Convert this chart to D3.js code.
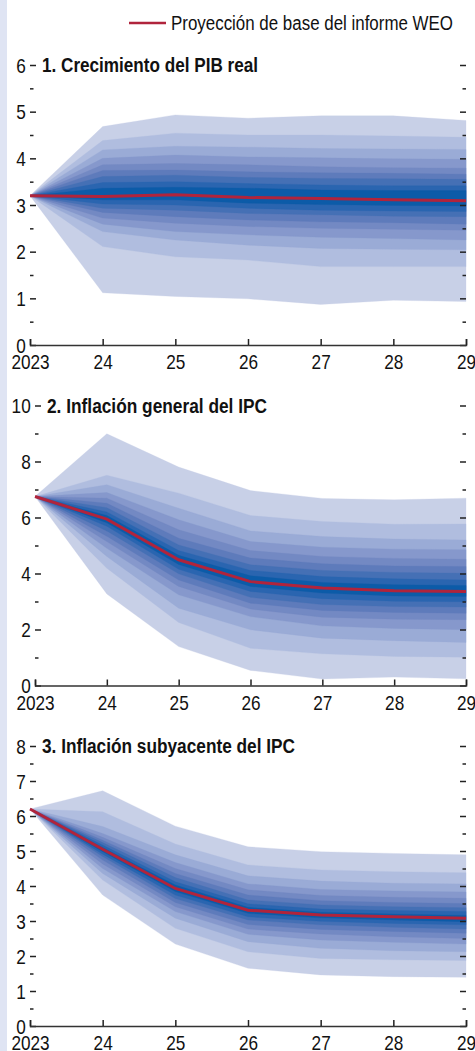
<!DOCTYPE html>
<html>
<head>
<meta charset="utf-8">
<script src="https://cdn.jsdelivr.net/npm/d3@7"></script>
<style>
  body { margin: 0; background: #fff; }
  svg text { font-family: 'Liberation Sans', Arial, sans-serif; fill: #111; }
  .tick line { stroke: #222; stroke-width: 1.5; }
  .domain { stroke: #333; stroke-width: 1.5; fill: none; }
</style>
</head>
<body>
<div id="vis"></div>
<script>
// Years and tick labels
var years = [2023, 2024, 2025, 2026, 2027, 2028, 2029];
var yearLabels = ["2023", "24", "25", "26", "27", "28", "29"];

// 1. Real GDP growth: baseline and fan bounds (band 0 = widest)
var gdpBase = [3.2, 3.18, 3.22, 3.16, 3.14, 3.11, 3.09];
var gdpUpper = [
    [3.2, 4.68, 4.93, 4.86, 4.91, 4.91, 4.81],
    [3.2, 4.38, 4.54, 4.50, 4.50, 4.48, 4.45],
    [3.2, 4.18, 4.26, 4.24, 4.21, 4.20, 4.19],
    [3.2, 4.00, 4.07, 4.03, 4.01, 3.99, 3.98],
    [3.2, 3.86, 3.89, 3.86, 3.82, 3.80, 3.79],
    [3.2, 3.74, 3.75, 3.71, 3.69, 3.68, 3.66],
    [3.2, 3.61, 3.64, 3.59, 3.57, 3.56, 3.55],
    [3.2, 3.48, 3.50, 3.46, 3.43, 3.41, 3.41],
    [3.2, 3.36, 3.38, 3.36, 3.32, 3.31, 3.31]
];
var gdpLower = [
    [3.2, 1.12, 1.04, 0.99, 0.87, 0.96, 0.93],
    [3.2, 2.11, 1.89, 1.82, 1.68, 1.68, 1.68],
    [3.2, 2.43, 2.25, 2.14, 2.07, 2.05, 2.04],
    [3.2, 2.59, 2.43, 2.36, 2.31, 2.28, 2.25],
    [3.2, 2.72, 2.61, 2.54, 2.50, 2.48, 2.46],
    [3.2, 2.84, 2.75, 2.68, 2.64, 2.62, 2.59],
    [3.2, 2.93, 2.89, 2.82, 2.79, 2.76, 2.75],
    [3.2, 3.02, 3.00, 2.93, 2.89, 2.87, 2.86],
    [3.2, 3.11, 3.11, 3.04, 3.01, 2.99, 2.98]
];

// 2. Headline CPI inflation
var cpiBase = [6.75, 5.94, 4.49, 3.71, 3.48, 3.38, 3.36];
var cpiUpper = [
    [6.75, 8.99, 7.80, 6.96, 6.68, 6.63, 6.69],
    [6.75, 7.51, 6.87, 6.07, 5.86, 5.76, 5.77],
    [6.75, 7.17, 6.33, 5.52, 5.32, 5.23, 5.20],
    [6.75, 6.89, 5.92, 5.14, 4.94, 4.87, 4.85],
    [6.75, 6.69, 5.56, 4.82, 4.61, 4.54, 4.51],
    [6.75, 6.51, 5.26, 4.55, 4.35, 4.27, 4.25],
    [6.75, 6.35, 5.02, 4.31, 4.11, 4.04, 4.01],
    [6.75, 6.20, 4.82, 4.11, 3.89, 3.81, 3.77],
    [6.75, 6.07, 4.65, 3.92, 3.68, 3.60, 3.57]
];
var cpiLower = [
    [6.75, 3.27, 1.39, 0.54, 0.23, 0.30, 0.24],
    [6.75, 4.19, 2.25, 1.33, 1.13, 1.04, 1.01],
    [6.75, 4.61, 2.76, 1.99, 1.69, 1.60, 1.54],
    [6.75, 4.90, 3.24, 2.46, 2.13, 2.04, 1.99],
    [6.75, 5.14, 3.54, 2.73, 2.44, 2.37, 2.35],
    [6.75, 5.33, 3.77, 2.94, 2.68, 2.61, 2.58],
    [6.75, 5.52, 3.99, 3.15, 2.89, 2.82, 2.80],
    [6.75, 5.69, 4.15, 3.36, 3.10, 3.01, 2.99],
    [6.75, 5.81, 4.32, 3.54, 3.30, 3.20, 3.18]
];

// 3. Core CPI inflation
var coreBase = [6.2, 5.05, 3.93, 3.31, 3.17, 3.12, 3.08];
var coreUpper = [
    [6.2, 6.72, 5.71, 5.12, 4.98, 4.93, 4.89],
    [6.2, 6.12, 5.20, 4.60, 4.46, 4.41, 4.38],
    [6.2, 5.70, 4.89, 4.29, 4.14, 4.08, 4.06],
    [6.2, 5.50, 4.67, 4.06, 3.90, 3.86, 3.83],
    [6.2, 5.39, 4.50, 3.89, 3.73, 3.68, 3.65],
    [6.2, 5.31, 4.36, 3.74, 3.58, 3.53, 3.50],
    [6.2, 5.24, 4.24, 3.60, 3.46, 3.41, 3.38],
    [6.2, 5.17, 4.12, 3.49, 3.34, 3.30, 3.27],
    [6.2, 5.10, 4.03, 3.39, 3.25, 3.20, 3.16]
];
var coreLower = [
    [6.2, 3.74, 2.34, 1.65, 1.46, 1.41, 1.39],
    [6.2, 4.17, 2.79, 2.12, 1.93, 1.89, 1.87],
    [6.2, 4.36, 3.08, 2.41, 2.22, 2.15, 2.12],
    [6.2, 4.50, 3.27, 2.62, 2.46, 2.39, 2.34],
    [6.2, 4.63, 3.41, 2.77, 2.63, 2.55, 2.50],
    [6.2, 4.74, 3.53, 2.90, 2.76, 2.70, 2.65],
    [6.2, 4.84, 3.64, 3.03, 2.89, 2.82, 2.77],
    [6.2, 4.91, 3.74, 3.12, 2.99, 2.93, 2.89],
    [6.2, 4.98, 3.84, 3.22, 3.09, 3.03, 2.98]
];

var bandColors = ["#c8d0e7", "#b0bddf", "#9aabd6", "#8698cc", "#7389c3",
                  "#5e7bbb", "#4570b5", "#2a65b0", "#0c5ba8"];
var baseColor = "#b0243c";

var width = 475, height = 1051, xRight = 466;
var squeeze = "scale(0.86,1)"; // stand-in for a condensed face

var panels = [
    {title: "1. Crecimiento del PIB real", titleWidth: 216, base: gdpBase, upper: gdpUpper, lower: gdpLower,
     yMax: 6, step: 0.5, major: 1, left: 30, top: 65, bottom: 345},
    {title: "2. Inflación general del IPC", titleWidth: 220, base: cpiBase, upper: cpiUpper, lower: cpiLower,
     yMax: 10, step: 1, major: 2, left: 35, top: 405.5, bottom: 685.5},
    {title: "3. Inflación subyacente del IPC", titleWidth: 253, base: coreBase, upper: coreUpper, lower: coreLower,
     yMax: 8, step: 0.5, major: 1, left: 30, top: 746, bottom: 1026}
];

var svg = d3.select("#vis").append("svg")
    .attr("width", width)
    .attr("height", height);

// light side strip
svg.append("rect")
    .attr("x", 0).attr("y", 0)
    .attr("width", 7).attr("height", height)
    .style("fill", "#dfe4f3");

// legend
svg.append("line")
    .attr("x1", 129).attr("x2", 166)
    .attr("y1", 23).attr("y2", 23)
    .style("stroke", baseColor)
    .style("stroke-width", 2.5);
svg.append("text")
    .attr("x", 171).attr("y", 23)
    .attr("dy", "0.36em")
    .attr("textLength", 282)
    .attr("lengthAdjust", "spacingAndGlyphs")
    .style("font-size", "20px")
    .text("Proyección de base del informe WEO");

panels.forEach(function(p) {
    var x = d3.scaleLinear()
        .domain([years[0], years[years.length - 1]])
        .range([p.left, xRight]);

    var y = d3.scaleLinear()
        .domain([0, p.yMax])
        .range([p.bottom, p.top]);

    var all = d3.range(0, p.yMax + p.step / 2, p.step);
    var isMajor = function(v) {
        return Math.abs(v / p.major - Math.round(v / p.major)) < 1e-6;
    };
    var majors = all.filter(isMajor);
    var minors = all.filter(function(v) { return !isMajor(v); });

    var g = svg.append("g");

    // fan bands, widest first
    p.upper.forEach(function(up, b) {
        var lo = p.lower[b];
        var area = d3.area()
            .x(function(d, i) { return x(years[i]); })
            .y0(function(d, i) { return y(lo[i]); })
            .y1(function(d, i) { return y(up[i]); });
        g.append("path")
            .datum(up)
            .attr("d", area)
            .style("fill", bandColors[b])
            .style("stroke", bandColors[b])
            .style("stroke-width", 0.3);
    });

    var line = d3.line()
        .x(function(d, i) { return x(years[i]); })
        .y(function(d) { return y(d); });

    g.append("path")
        .datum(p.base)
        .attr("d", line)
        .style("fill", "none")
        .style("stroke", baseColor)
        .style("stroke-width", 3);

    // inner tick marks on both sides
    [[majors, 6], [minors, 3.5]].forEach(function(t) {
        g.append("g")
            .attr("transform", "translate(" + p.left + ",0)")
            .call(d3.axisRight(y).tickValues(t[0]).tickSize(t[1]).tickFormat(""))
            .call(function(s) { s.select(".domain").remove(); });
        g.append("g")
            .attr("transform", "translate(" + xRight + ",0)")
            .call(d3.axisLeft(y).tickValues(t[0]).tickSize(t[1]).tickFormat(""))
            .call(function(s) { s.select(".domain").remove(); });
    });

    // left value labels
    var gy = g.append("g")
        .attr("transform", "translate(" + p.left + ",0)")
        .call(d3.axisLeft(y).tickValues(majors).tickSize(0).tickPadding(5)
            .tickFormat(d3.format("d")));
    gy.select(".domain").remove();
    gy.selectAll("text")
        .attr("dy", "0.36em")
        .attr("transform", squeeze)
        .style("font-size", "20px").style("font-family", null);

    // x axis with upward ticks
    var gx = g.append("g")
        .attr("transform", "translate(0," + p.bottom + ")")
        .call(d3.axisBottom(x).tickValues(years).tickSize(-6).tickSizeOuter(-6).tickPadding(10)
            .tickFormat(function(d, i) { return yearLabels[i]; }));
    gx.selectAll("text")
        .attr("transform", squeeze)
        .style("font-size", "20px").style("font-family", null);

    g.append("text")
        .attr("x", p.left + 12)
        .attr("y", y(p.yMax))
        .attr("dy", "0.36em")
        .attr("textLength", p.titleWidth)
        .attr("lengthAdjust", "spacingAndGlyphs")
        .style("font-size", "20px")
        .style("font-weight", "bold")
        .text(p.title);
});
</script>
</body>
</html>
